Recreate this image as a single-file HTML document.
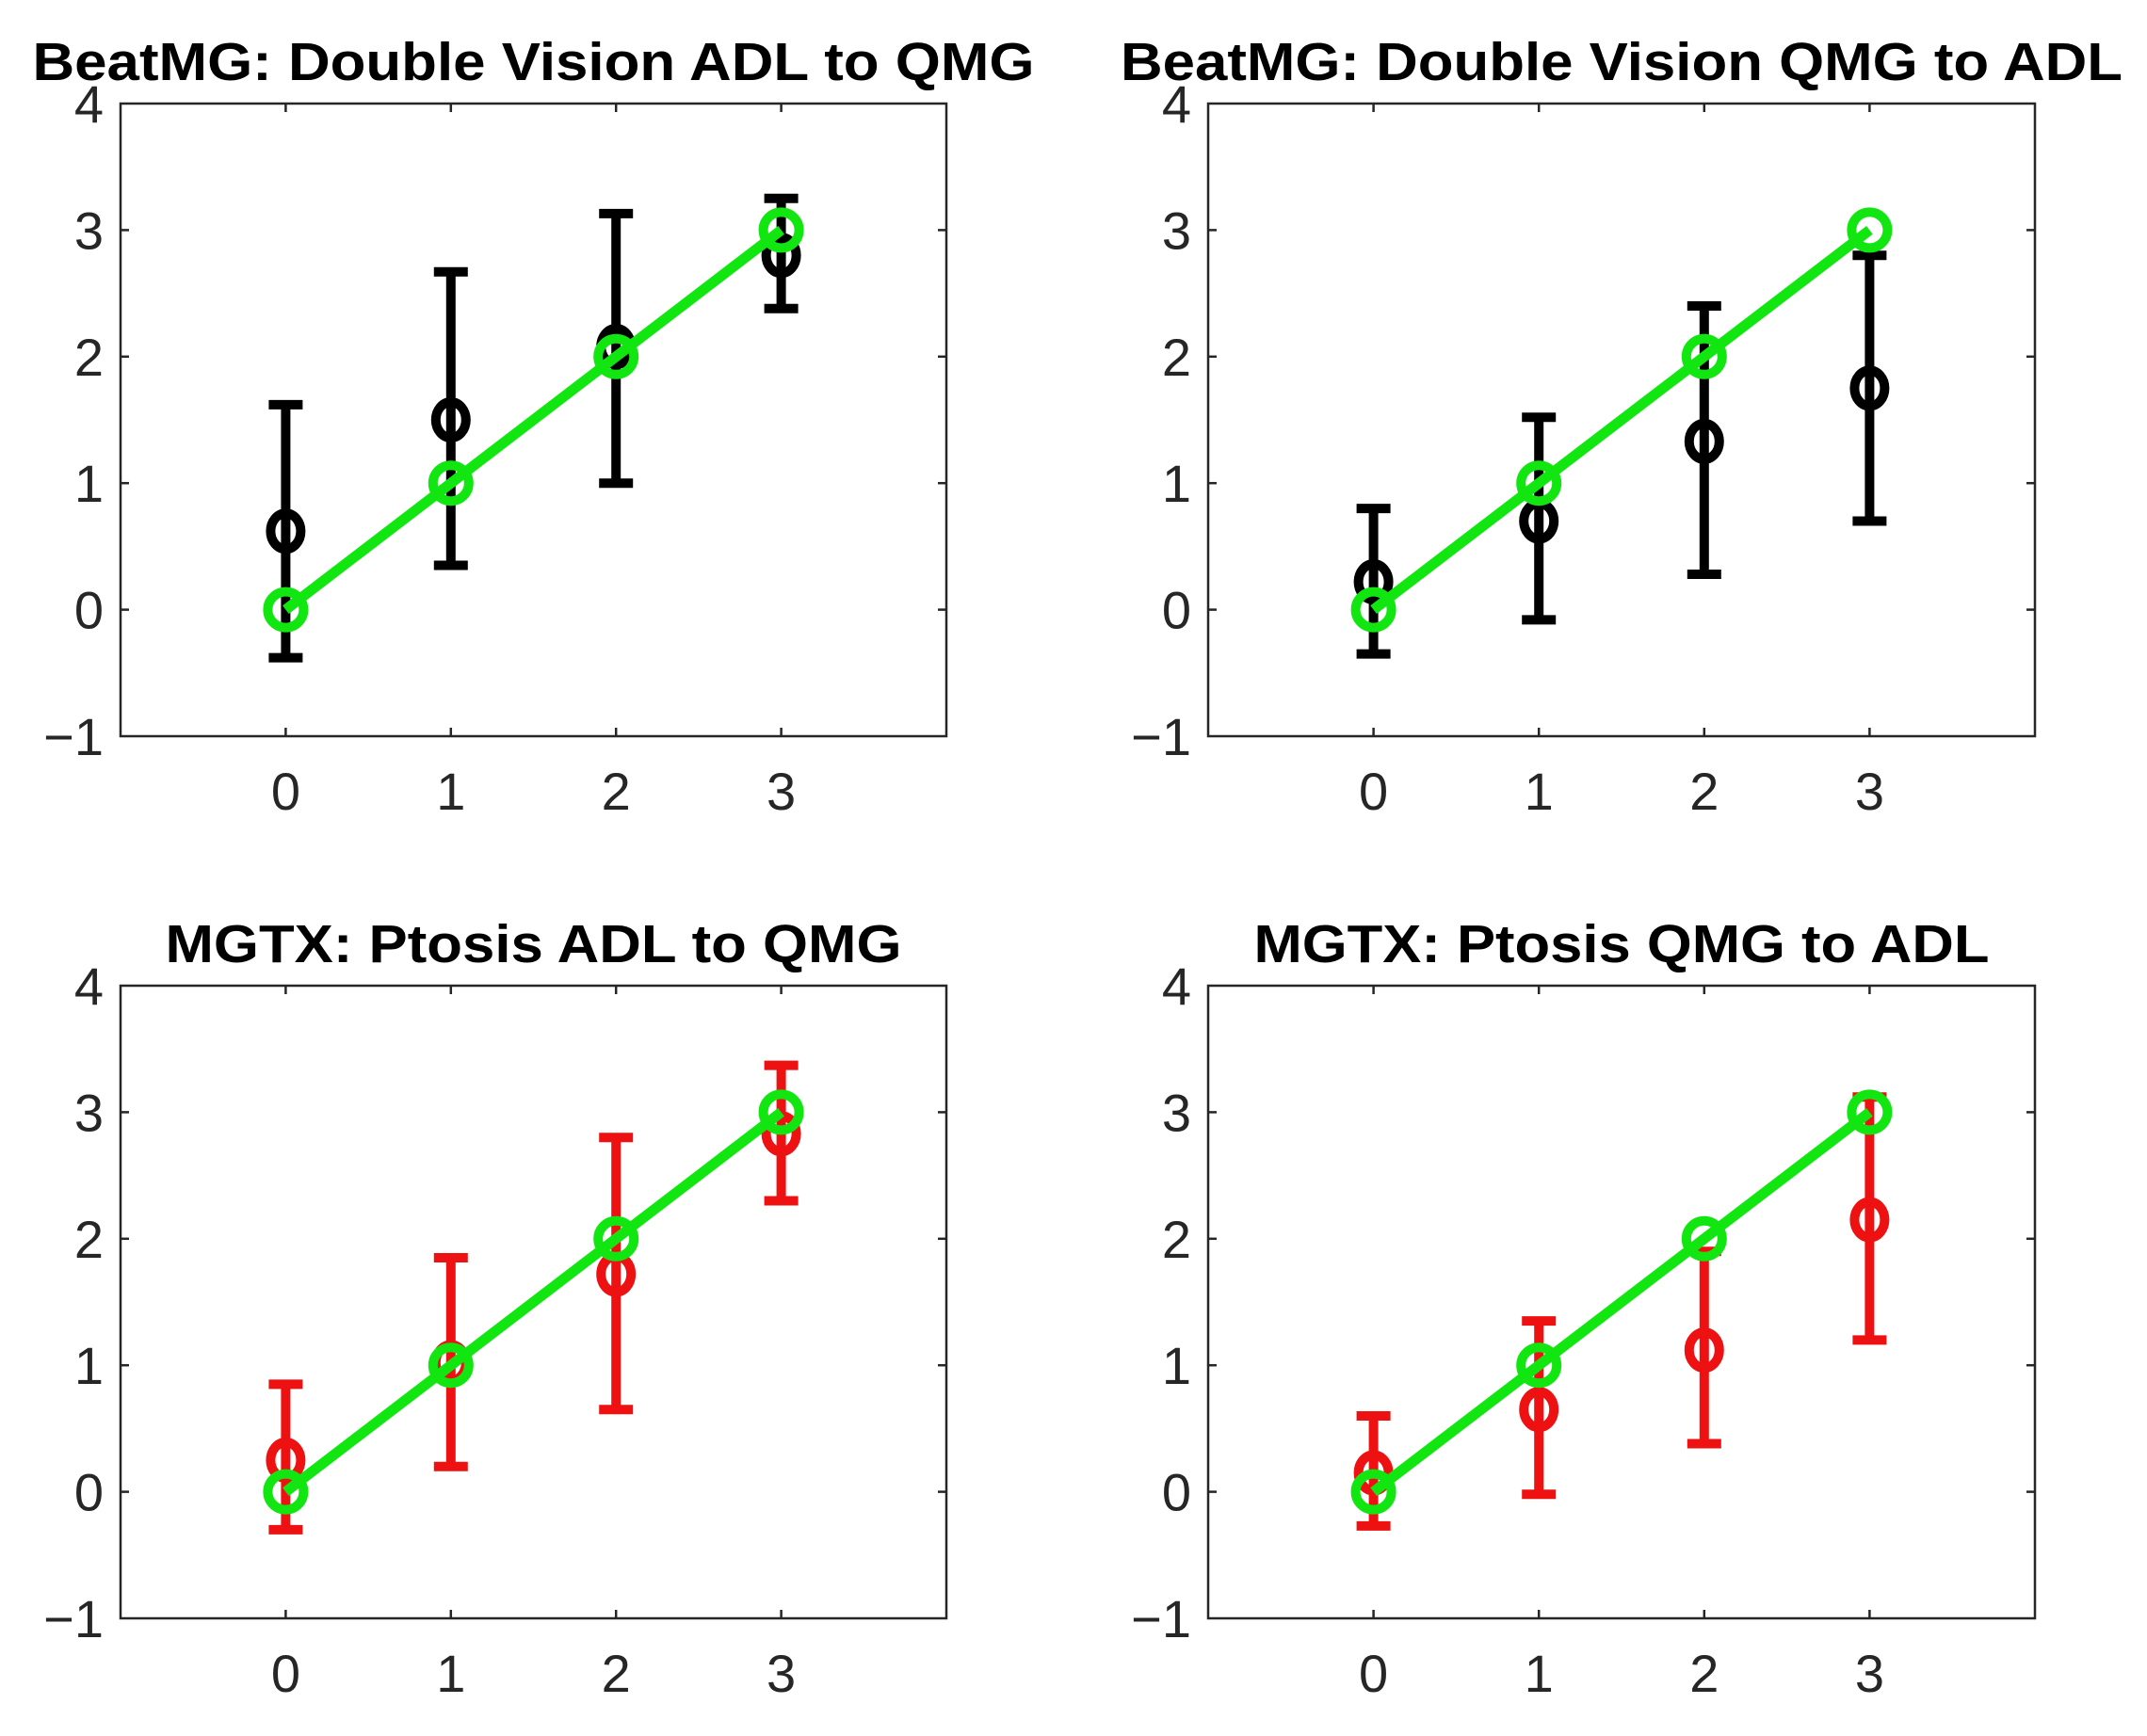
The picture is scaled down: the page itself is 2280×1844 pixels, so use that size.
<!DOCTYPE html>
<html><head><meta charset="utf-8"><style>
html,body{margin:0;padding:0;background:#fff;}
svg{display:block;}
</style></head><body>
<svg id="fig" width="2280" height="1844" viewBox="0 0 2280 1844" xmlns="http://www.w3.org/2000/svg"></svg>
<script>
const categories = [0, 1, 2, 3];
const titles = ["BeatMG: Double Vision ADL to QMG", "BeatMG: Double Vision QMG to ADL", "MGTX: Ptosis ADL to QMG", "MGTX: Ptosis QMG to ADL"];
const meansTL = [0.62, 1.5, 2.08, 2.8];
const upperTL = [1.62, 2.67, 3.13, 3.25];
const lowerTL = [-0.38, 0.35, 1.0, 2.38];
const meansTR = [0.22, 0.7, 1.33, 1.75];
const upperTR = [0.8, 1.52, 2.4, 2.8];
const lowerTR = [-0.35, -0.08, 0.28, 0.7];
const meansBL = [0.25, 1.02, 1.72, 2.83];
const upperBL = [0.85, 1.85, 2.8, 3.37];
const lowerBL = [-0.3, 0.2, 0.65, 2.3];
const meansBR = [0.15, 0.65, 1.12, 2.15];
const upperBR = [0.6, 1.35, 1.9, 3.12];
const lowerBR = [-0.27, -0.02, 0.38, 1.2];
const identity = [0, 1, 2, 3];
const xTicks = [0, 1, 2, 3];
const yTicks = [-1, 0, 1, 2, 3, 4];

const NS = "http://www.w3.org/2000/svg";
const svg = document.getElementById("fig");
function mk(tag, attrs, parent) {
  const e = document.createElementNS(NS, tag);
  for (const k in attrs) e.setAttribute(k, attrs[k]);
  (parent || svg).appendChild(e);
  return e;
}
const panels = [
  {name:"top-left", L:128, R:1005, T:110, B:782, m:meansTL, u:upperTL, l:lowerTL, c:"#000000", title:titles[0], tw:1064},
  {name:"top-right", L:1283, R:2161, T:110, B:782, m:meansTR, u:upperTR, l:lowerTR, c:"#000000", title:titles[1], tw:1064},
  {name:"bottom-left", L:128, R:1005, T:1047, B:1719, m:meansBL, u:upperBL, l:lowerBL, c:"#ee1111", title:titles[2], tw:782},
  {name:"bottom-right", L:1283, R:2161, T:1047, B:1719, m:meansBR, u:upperBR, l:lowerBR, c:"#ee1111", title:titles[3], tw:781}
];
panels.forEach(p => {
  const g = mk("g", {});
  
  
  const sx = v => p.L + (v + 1) / 5 * (p.R - p.L);
  const sy = v => p.B - (v + 1) / 5 * (p.B - p.T);
  const t = mk("text", {x:(p.L+p.R)/2, y:p.T-25, "text-anchor":"middle", "font-family":"Liberation Sans, Arial, sans-serif", "font-weight":"bold", "font-size":"57", fill:"#000", textLength:p.tw, lengthAdjust:"spacingAndGlyphs"}, g);
  t.textContent = p.title;
  
  
  const box = mk("rect", {x:p.L, y:p.T, width:p.R-p.L, height:p.B-p.T, fill:"none", stroke:"#262626", "stroke-width":2.5}, g);
  
  
  xTicks.forEach(v => {
    const x = sx(v);
    mk("line", {x1:x, x2:x, y1:p.B, y2:p.B-9, stroke:"#262626", "stroke-width":2.5}, g);
    mk("line", {x1:x, x2:x, y1:p.T, y2:p.T+9, stroke:"#262626", "stroke-width":2.5}, g);
    const tl = mk("text", {x:x, y:p.B+78, "text-anchor":"middle", "font-family":"Liberation Sans, Arial, sans-serif", "font-size":"56", fill:"#262626"}, g);
    tl.textContent = v;
    
    
  });
  yTicks.forEach(v => {
    const y = sy(v);
    if (v > -1 && v < 4) {
      mk("line", {x1:p.L, x2:p.L+9, y1:y, y2:y, stroke:"#262626", "stroke-width":2.5}, g);
      mk("line", {x1:p.R, x2:p.R-9, y1:y, y2:y, stroke:"#262626", "stroke-width":2.5}, g);
    }
    const tl = mk("text", {x:p.L-18, y:y+20, "text-anchor":"end", "font-family":"Liberation Sans, Arial, sans-serif", "font-size":"56", fill:"#262626"}, g);
    tl.textContent = v < 0 ? "\u2212" + Math.abs(v) : v;
    
    
  });
  categories.forEach((c, i) => {
    const x = sx(c);
    const eb = mk("g", {stroke:p.c, "stroke-width":10, fill:"none"}, g);
    
    
    mk("line", {x1:x, x2:x, y1:sy(p.u[i]), y2:sy(p.l[i])}, eb);
    mk("line", {x1:x-18, x2:x+18, y1:sy(p.u[i]), y2:sy(p.u[i])}, eb);
    mk("line", {x1:x-18, x2:x+18, y1:sy(p.l[i]), y2:sy(p.l[i])}, eb);
    const mc = mk("ellipse", {cx:x, cy:sy(p.m[i]), rx:16, ry:19}, eb);
    
    
  });
  const pts = categories.map((c, i) => sx(c) + "," + sy(identity[i])).join(" ");
  const pl = mk("polyline", {points:pts, fill:"none", stroke:"#11e611", "stroke-width":11}, g);
  
  
  categories.forEach((c, i) => {
    const gm = mk("ellipse", {cx:sx(c), cy:sy(identity[i]), rx:19, ry:19, fill:"none", stroke:"#11e611", "stroke-width":10}, g);
    
    
  });
});
</script>
</body></html>
